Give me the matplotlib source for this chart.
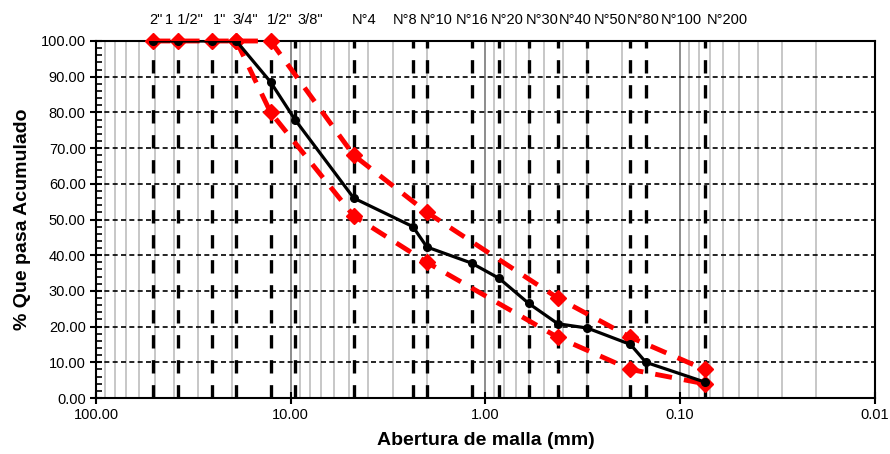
import numpy as np
import matplotlib.pyplot as plt
from matplotlib.ticker import FixedLocator, LogLocator, NullFormatter, MultipleLocator

plt.rcParams['font.family'] = ['Liberation Sans', 'DejaVu Sans']

# Sieve openings (mm) and names
sieve_names = ['2"', '1 1/2"', '1"', '3/4"', '1/2"', '3/8"', 'N°4', 'N°8', 'N°10',
               'N°16', 'N°20', 'N°30', 'N°40', 'N°50', 'N°80', 'N°100', 'N°200']
sieve_mm = [50.8, 38.1, 25.4, 19.05, 12.7, 9.525, 4.75, 2.36, 2.0,
            1.18, 0.85, 0.6, 0.425, 0.3, 0.18, 0.15, 0.075]

# Gradation curve (% passing)
curve_mm = [50.8, 38.1, 25.4, 19.05, 12.7, 9.525, 4.75, 2.36, 2.0,
            1.18, 0.85, 0.6, 0.425, 0.3, 0.18, 0.15, 0.075]
curve_pass = [100, 100, 100, 100, 88.5, 78, 56, 48, 42.3,
              37.8, 33.5, 26.5, 20.8, 19.6, 15, 10, 4.5]

# Specification limits
upper_mm = [50.8, 38.1, 25.4, 19.05, 12.7, 4.75, 2.0, 0.425, 0.18, 0.075]
upper_pass = [100, 100, 100, 100, 100, 68, 52, 28, 17, 8]
lower_mm = [19.05, 12.7, 4.75, 2.0, 0.425, 0.18, 0.075]
lower_pass = [100, 80, 51, 38, 17, 8, 4]

# horizontal placement of the sieve names above the plot (axes fraction)
label_pos = [0.077, 0.113, 0.158, 0.191, 0.236, 0.275, 0.344, 0.397, 0.437,
             0.483, 0.528, 0.573, 0.615, 0.660, 0.702, 0.751, 0.810]

fig = plt.figure(figsize=(8.9, 4.54), dpi=100)
ax = fig.add_axes([0.108, 0.1233, 0.875, 0.7864])

ax.set_xscale('log')
ax.set_xlim(100, 0.01)
ax.set_ylim(0, 100)

# log grid (gray)
ax.xaxis.set_major_locator(FixedLocator([100, 10, 1, 0.1, 0.01]))
ax.xaxis.set_minor_locator(LogLocator(base=10, subs=np.arange(2, 10)))
ax.xaxis.set_minor_formatter(NullFormatter())
ax.set_xticklabels(['100.00', '10.00', '1.00', '0.10', '0.01'])
ax.grid(True, axis='x', which='minor', color='#bdbdbd', lw=1.2)
ax.grid(True, axis='x', which='major', color='#8c8c8c', lw=1.4)

# horizontal dashed grid
ax.yaxis.set_major_locator(MultipleLocator(10))
ax.yaxis.set_minor_locator(MultipleLocator(2))
ax.yaxis.set_major_formatter(lambda v, p: f'{v:.2f}')
ax.grid(True, axis='y', which='major', color='black', lw=1.2, ls=(0, (3, 2)))

# sieve lines
for s in sieve_mm:
    ax.axvline(s, color='black', lw=2.4, ls=(0, (4, 3.5)), zorder=2)

ax.plot(upper_mm, upper_pass, color='red', lw=3.5, ls=(0, (3.5, 2.5)),
        marker='D', ms=8, zorder=3, clip_on=False)
ax.plot(lower_mm, lower_pass, color='red', lw=3.5, ls=(0, (3.5, 2.5)),
        marker='D', ms=8, zorder=3, clip_on=False)
ax.plot(curve_mm, curve_pass, color='black', lw=2.3, marker='o', ms=5.5, zorder=4)

for name, xp in zip(sieve_names, label_pos):
    ax.text(xp, 1.058, name, transform=ax.transAxes, ha='center', va='center',
            fontsize=10.5)

ax.tick_params(axis='both', which='major', direction='inout', length=8, width=1.5,
               labelsize=10.5)
ax.tick_params(axis='y', which='minor', direction='in', length=4, width=1.2)
ax.tick_params(axis='x', which='minor', length=0)
for sp in ax.spines.values():
    sp.set_linewidth(1.5)

ax.set_xlabel('Abertura de malla (mm)', fontsize=14, fontweight='bold', labelpad=7)
ax.set_ylabel('% Que pasa Acumulado', fontsize=14, fontweight='bold', labelpad=7)

fig.savefig('out.png', dpi=100)
